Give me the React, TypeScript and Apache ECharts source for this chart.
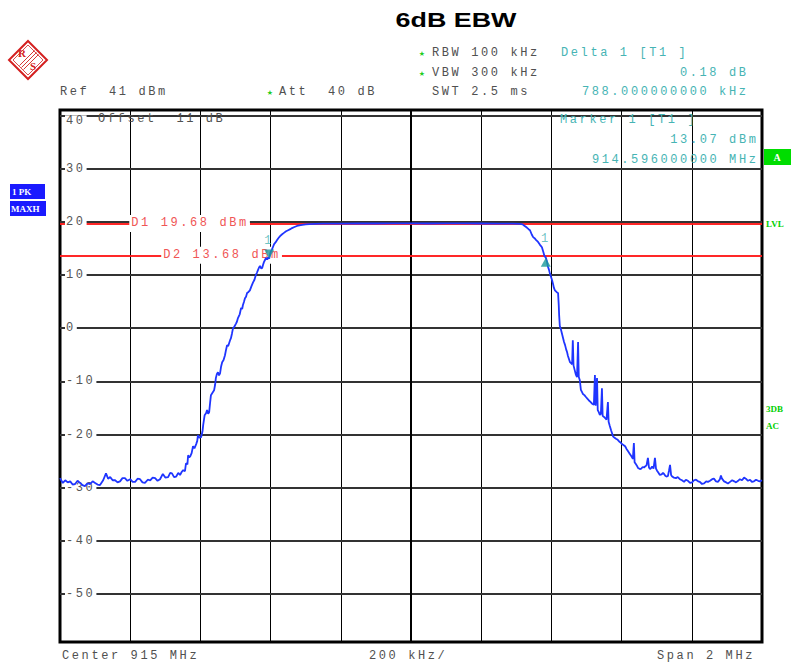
import React, { useEffect, useRef } from 'react';
import * as echarts from 'echarts';

// ---------- data ----------
const X_MIN = -1000; // kHz offset from 915 MHz
const X_MAX = 1000;
const X_STEP = 200;
const Y_MIN = -59;
const Y_MAX = 41;
const Y_TICKS = [40, 30, 20, 10, 0, -10, -20, -30, -40, -50];

const TRACE_KHZ = [
  -1000, -992, -985, -978, -971, -964, -957, -950, -943, -936, -929, -922, -914, -907, -900, -893, -886, -877, -869, -863,
  -857, -850, -843, -836, -829, -822, -815, -808, -800, -793, -786, -779, -772, -765, -758, -750, -743, -736, -729, -722,
  -715, -707, -700, -692, -686, -681, -675, -669, -663, -658, -653, -649, -644, -641, -637, -635, -632, -629, -625, -621,
  -617, -612, -609, -607, -603, -598, -594, -592, -588, -584, -581, -578, -575, -572, -570, -566, -561, -558, -556, -553,
  -550, -547, -544, -541, -538, -534, -530, -527, -524, -521, -518, -515, -513, -510, -507, -503, -499, -496, -493, -488,
  -484, -481, -479, -476, -473, -470, -467, -463, -459, -455, -450, -446, -442, -439, -436, -433, -430, -427, -424, -421,
  -419, -416, -413, -410, -407, -404, -400, -396, -393, -390, -386, -382, -378, -373, -368, -362, -356, -350, -344, -339,
  -332, -325, -318, -310, -300, -290, -274, -250, -200, -150, -100, -50, 0, 50, 100, 150, 200, 250, 290, 310,
  318, 322, 326, 330, 335, 339, 344, 348, 352, 356, 362, 367, 373, 377, 380, 384, 387, 390, 393, 396,
  399, 402, 405, 407, 410, 413, 416, 419, 421, 422, 424, 427, 430, 433, 436, 439, 442, 445, 447, 450,
  453, 456, 459, 461, 463, 466, 470, 473, 476, 478, 481, 484, 487, 490, 494, 499, 503, 507, 512, 516,
  521, 524, 526, 530, 532, 535, 538, 541, 544, 546, 550, 553, 557, 561, 563, 566, 570, 573, 576, 580,
  584, 589, 593, 597, 601, 606, 610, 614, 618, 623, 627, 630, 632, 635, 637, 641, 644, 647, 652, 656,
  660, 664, 667, 671, 675, 678, 681, 684, 687, 691, 695, 698, 701, 705, 709, 714, 718, 721, 725, 729,
  732, 735, 738, 741, 744, 749, 755, 760, 766, 772, 778, 783, 789, 795, 801, 806, 812, 818, 823, 829,
  835, 841, 846, 852, 858, 863, 869, 875, 880, 883, 886, 892, 898, 903, 909, 915, 921, 926, 932, 937,
  943, 949, 954, 960, 966, 971, 977, 983, 989, 994, 1000,
];

const TRACE_DBM = [
  -28.2, -29.1, -28.6, -29.0, -28.8, -29.4, -29.3, -28.7, -29.1, -29.5, -29.7, -29.2, -29.3, -28.8, -29.1, -29.4, -29.5, -28.6, -27.3, -28.3,
  -28.0, -28.6, -28.6, -29.0, -28.8, -28.2, -28.2, -28.7, -28.4, -28.9, -28.9, -28.3, -28.4, -29.0, -29.1, -28.5, -28.6, -28.1, -28.2, -28.7,
  -28.4, -27.4, -28.1, -28.0, -27.2, -27.3, -28.0, -27.9, -27.2, -27.6, -27.0, -26.7, -26.9, -25.4, -25.6, -23.9, -24.3, -24.1, -23.5, -22.2,
  -22.6, -21.8, -21.2, -20.1, -20.6, -20.5, -19.4, -18.2, -16.4, -16.0, -15.4, -16.1, -15.8, -13.8, -12.6, -12.2, -11.7, -10.6, -9.4, -8.6,
  -8.3, -8.9, -8.5, -7.2, -6.4, -6.0, -5.1, -4.1, -3.2, -3.4, -2.8, -2.2, -1.9, -1.0, 0.0, 0.3, 0.8, 1.2, 1.9, 2.6,
  3.8, 3.6, 4.3, 4.9, 5.6, 5.9, 6.6, 6.8, 7.1, 7.8, 8.6, 9.1, 10.0, 10.4, 10.9, 11.4, 11.7, 11.2, 11.3, 12.0,
  12.4, 12.8, 13.2, 12.9, 13.3, 13.07, 14.3, 14.8, 15.3, 15.8, 16.1, 16.5, 16.9, 17.3, 17.6, 17.9, 18.2, 18.4, 18.6, 18.8,
  19.0, 19.2, 19.3, 19.4, 19.5, 19.55, 19.6, 19.65, 19.66, 19.68, 19.67, 19.68, 19.68, 19.67, 19.68, 19.68, 19.67, 19.66, 19.64, 19.6,
  19.5, 19.3, 19.1, 18.9, 18.6, 18.4, 17.6, 17.1, 16.9, 16.6, 16.2, 15.7, 15.2, 14.3, 13.6, 13.25, 12.6, 11.6, 11.0, 10.2,
  9.6, 9.0, 8.2, 7.6, 7.1, 6.9, 6.7, 6.6, 4.2, 2.5, 0.4, -0.2, -1.0, -1.8, -2.6, -3.2, -4.0, -4.6, -5.2, -5.8,
  -6.4, -6.6, -6.8, -2.3, -7.0, -7.8, -8.8, -9.2, -2.6, -9.2, -9.8, -11.6, -12.0, -12.4, -12.6, -13.0, -13.3, -13.6, -13.9, -14.2,
  -14.4, -8.8, -14.6, -9.4, -15.4, -15.8, -16.3, -16.1, -11.3, -16.5, -16.7, -16.9, -17.2, -13.9, -17.6, -18.3, -19.2, -19.8, -20.4, -20.6,
  -20.8, -21.0, -21.3, -21.5, -21.8, -22.0, -22.2, -22.7, -23.1, -23.6, -24.0, -24.3, -24.6, -21.6, -25.2, -25.6, -25.9, -26.3, -26.5, -26.4,
  -26.1, -26.2, -26.0, -25.8, -24.4, -26.2, -26.5, -26.3, -26.0, -26.4, -24.4, -26.4, -26.8, -27.2, -27.6, -27.5, -27.2, -27.4, -27.8, -27.9,
  -27.8, -26.8, -25.7, -27.6, -27.9, -28.1, -28.2, -28.0, -28.4, -28.6, -28.9, -28.5, -28.7, -29.1, -29.0, -28.6, -28.5, -28.8, -28.9, -29.3,
  -29.2, -28.8, -28.9, -28.7, -28.4, -28.3, -28.8, -28.9, -28.4, -27.7, -28.3, -28.8, -29.0, -29.2, -28.9, -28.6, -28.8, -29.0, -28.7, -28.4,
  -28.6, -28.1, -28.3, -28.7, -28.5, -28.9, -28.8, -28.5, -28.7, -28.8, -28.6,
];

const D1_LEVEL = 19.68;
const D2_LEVEL = 13.68;
// display-line label gaps (kHz) where the line is interrupted by its text
const D1_GAP = [-795, -459];
const D2_GAP = [-707, -368];
const MARKER1 = [-404, 13.07];
const DELTA1 = [384, 13.25];

// ---------- styles ----------
const MONO = '"Liberation Mono", "DejaVu Sans Mono", monospace';
const SPACING = 2.6;
const GRAY = '#505050';
const TEAL = '#46b4b4';
const MARK_TEAL = '#1a9a9a';
const RED_TXT = '#f05555';
const RED = '#ff1a1a';
const GREEN = '#00d000';
const BLUE_TRACE = '#1f35ff';

const txt = (text: string, x: number, y: number, fill: string, align = 'left', extra: any = {}) => ({
  type: 'text',
  x,
  y,
  silent: true,
  z: 20,
  style: {
    text,
    fill,
    fontFamily: MONO,
    fontSize: 12,
    align,
    verticalAlign: 'middle',
    textAlign: align,
    textVerticalAlign: 'middle',
    ...extra,
  },
});

export default function App() {
  const ref = useRef<HTMLDivElement>(null);

  useEffect(() => {
    if (!ref.current) return;
    const chart = echarts.init(ref.current, null, { renderer: 'svg' });

    const traceData = TRACE_KHZ.map((k, i) => [k, TRACE_DBM[i]]);

    const yLabel = (v: number) => {
      const s = String(v);
      return {
        yAxis: v,
        label: {
          show: true,
          formatter: s,
          position: v === 40 ? 'insideStartBottom' : 'insideStart',
          distance: [5, 0],
          color: '#555',
          fontFamily: MONO,
          fontSize: 12,
          backgroundColor: '#fff',
          padding: [0, 1 + SPACING * s.length, 0, 1],
        },
      };
    };

    const displayLine = (level: number, gap: number[], name: string | null) => [
      [
        { coord: [X_MIN, level], label: { show: false } },
        { coord: [gap[0], level] },
      ],
      [
        {
          coord: [gap[1], level],
          label: name
            ? {
                show: true,
                formatter: name,
                position: 'start',
                distance: 0,
                color: RED_TXT,
                fontFamily: MONO,
                fontSize: 12,
                backgroundColor: '#fff',
                padding: [0, 1, 5, 2 + SPACING * name.length],
              }
            : { show: false },
        },
        { coord: [X_MAX, level] },
      ],
    ];

    const redMarkLine = (withLabels: boolean) => ({
      silent: true,
      symbol: ['none', 'none'],
      animation: false,
      emphasis: { disabled: true },
      lineStyle: { color: RED, width: 1.5, type: 'solid' },
      data: [
        ...displayLine(D1_LEVEL, D1_GAP, withLabels ? 'D1 19.68 dBm' : null),
        ...displayLine(D2_LEVEL, D2_GAP, withLabels ? 'D2 13.68 dBm' : null),
      ],
    });

    const option: any = {
      animation: false,
      backgroundColor: '#fff',
      grid: {
        left: 60,
        right: 29,
        top: 110,
        bottom: 24,
        containLabel: false,
        outerBoundsMode: 'none',
        show: true,
        borderColor: '#000',
        borderWidth: 3,
        backgroundColor: 'transparent',
      },
      xAxis: {
        type: 'value',
        min: X_MIN,
        max: X_MAX,
        interval: X_STEP,
        axisLine: { show: false },
        axisTick: { show: false },
        axisLabel: { show: false },
        splitLine: { show: true, lineStyle: { color: '#000', width: 1 } },
      },
      yAxis: {
        type: 'value',
        min: Y_MIN,
        max: Y_MAX,
        axisLine: { show: false },
        axisTick: { show: false },
        axisLabel: { show: false },
        splitLine: { show: false },
      },
      series: [
        {
          name: 'grid',
          type: 'line',
          z: 1,
          silent: true,
          symbol: 'none',
          data: [[X_MIN, Y_MIN]],
          lineStyle: { opacity: 0 },
          markLine: {
            silent: true,
            symbol: ['none', 'none'],
            animation: false,
            emphasis: { disabled: true },
            lineStyle: { color: '#333', width: 2, type: 'solid' },
            data: [
              ...Y_TICKS.map(yLabel),
              { xAxis: 0, label: { show: false }, lineStyle: { color: '#000', width: 2, type: 'solid' } },
            ],
          },
        },
        {
          name: 'display line labels',
          type: 'line',
          z: 2,
          silent: true,
          symbol: 'none',
          data: [[X_MIN, Y_MIN]],
          lineStyle: { opacity: 0 },
          markLine: redMarkLine(true),
        },
        {
          name: '1 PK MAXH',
          type: 'line',
          z: 5,
          silent: true,
          symbol: 'none',
          showSymbol: false,
          data: traceData,
          lineStyle: { color: BLUE_TRACE, width: 1.8 },
        },
        {
          name: 'display lines',
          type: 'line',
          z: 6,
          silent: true,
          symbol: 'none',
          data: [[X_MIN, Y_MIN]],
          lineStyle: { opacity: 0 },
          markLine: redMarkLine(false),
        },
        {
          name: 'markers',
          type: 'scatter',
          z: 7,
          silent: true,
          data: [
            {
              value: MARKER1,
              symbol: 'path://M0,0L10,0L5,9Z',
              symbolSize: [10, 9],
              symbolOffset: [0, -4.5],
              label: { show: true, formatter: '1', position: 'top', distance: 3, color: TEAL, fontFamily: MONO, fontSize: 12 },
            },
            {
              value: DELTA1,
              symbol: 'triangle',
              symbolSize: [10, 9],
              symbolOffset: [0, 4.5],
              label: { show: true, formatter: '1', position: 'top', distance: 13, color: TEAL, fontFamily: MONO, fontSize: 12 },
            },
          ],
          itemStyle: { color: MARK_TEAL },
        },
      ],
      graphic: [
        // title
        {
          type: 'text',
          x: 456,
          y: 20,
          scaleX: 1.28,
          silent: true,
          style: {
            text: '6dB EBW',
            fill: '#000',
            fontFamily: '"Liberation Sans", Arial, sans-serif',
            fontWeight: 'bold',
            fontSize: 21,
            align: 'center',
            verticalAlign: 'middle',
            textAlign: 'center',
            textVerticalAlign: 'middle',
          },
        },
        // R&S logo
        {
          type: 'polygon',
          silent: true,
          shape: { points: [[28, 41], [47, 60], [28, 79], [9, 60]] },
          style: { fill: '#fff', stroke: '#d42020', lineWidth: 2 },
        },
        {
          type: 'polygon',
          silent: true,
          shape: { points: [[28, 45], [43, 60], [28, 75], [13, 60]] },
          style: { fill: 'none', stroke: '#d42020', lineWidth: 0.8 },
        },
        { type: 'line', silent: true, shape: { x1: 34.5, y1: 50.5, x2: 19.5, y2: 65.5 }, style: { stroke: '#d42020', lineWidth: 0.9 } },
        { type: 'line', silent: true, shape: { x1: 36.5, y1: 52.5, x2: 21.5, y2: 67.5 }, style: { stroke: '#d42020', lineWidth: 0.9 } },
        { type: 'line', silent: true, shape: { x1: 38.5, y1: 54.5, x2: 23.5, y2: 69.5 }, style: { stroke: '#d42020', lineWidth: 0.9 } },
        txt('R', 22, 53, '#d42020', 'center', { fontFamily: '"Liberation Serif", serif', fontWeight: 'bold', fontSize: 11 }),
        txt('S', 33, 66, '#d42020', 'center', { fontFamily: '"Liberation Serif", serif', fontWeight: 'bold', fontSize: 11 }),
        // header settings
        txt('Ref  41 dBm', 60, 92, GRAY),
        txt('★', 270, 93, '#22cc22', 'center', { fontFamily: '"DejaVu Sans", sans-serif', fontSize: 7 }),
        txt('Att  40 dB', 279, 92, GRAY),
        txt('★', 422, 54, '#22cc22', 'center', { fontFamily: '"DejaVu Sans", sans-serif', fontSize: 7 }),
        txt('RBW 100 kHz', 432, 53, GRAY),
        txt('★', 422, 74, '#22cc22', 'center', { fontFamily: '"DejaVu Sans", sans-serif', fontSize: 7 }),
        txt('VBW 300 kHz', 432, 73, GRAY),
        txt('SWT 2.5 ms', 432, 92, GRAY),
        txt('Delta 1 [T1 ]', 561, 53, TEAL),
        txt('0.18 dB', 748.5, 73, TEAL, 'right'),
        txt('788.000000000 kHz', 748.5, 92, TEAL, 'right'),
        // marker info in plot
        txt('Offset  11 dB', 98, 119, GRAY),
        txt('Marker 1 [T1 ]', 560, 120, TEAL),
        txt('13.07 dBm', 758.5, 140, TEAL, 'right'),
        txt('914.596000000 MHz', 758.5, 160, TEAL, 'right'),
        // footer
        txt('Center 915 MHz', 62, 656, GRAY),
        txt('200 kHz/', 369, 656, GRAY),
        txt('Span 2 MHz', 755, 656, GRAY, 'right'),
        // left trace boxes
        { type: 'rect', silent: true, z: 20, shape: { x: 10, y: 184, width: 35, height: 15 }, style: { fill: '#1a1aff' } },
        { type: 'rect', silent: true, z: 20, shape: { x: 10, y: 201, width: 36, height: 15 }, style: { fill: '#1a1aff' } },
        txt('1 PK', 12, 192, '#fff', 'left', { fontFamily: '"Liberation Serif", serif', fontWeight: 'bold', fontSize: 9 }),
        txt('MAXH', 11, 209, '#fff', 'left', { fontFamily: '"Liberation Serif", serif', fontWeight: 'bold', fontSize: 9 }),
        // right side indicators
        { type: 'rect', silent: true, z: 20, shape: { x: 764, y: 149, width: 27, height: 16 }, style: { fill: '#00dd00' } },
        txt('A', 777, 157.5, '#fff', 'center', { fontFamily: '"Liberation Serif", serif', fontWeight: 'bold', fontSize: 10 }),
        txt('LVL', 766, 224, GREEN, 'left', { fontFamily: '"Liberation Serif", serif', fontWeight: 'bold', fontSize: 9 }),
        txt('3DB', 766, 409, GREEN, 'left', { fontFamily: '"Liberation Serif", serif', fontWeight: 'bold', fontSize: 9 }),
        txt('AC', 766, 426, GREEN, 'left', { fontFamily: '"Liberation Serif", serif', fontWeight: 'bold', fontSize: 9 }),
      ],
    };

    chart.setOption(option);

    const applySpacing = () => {
      const root = ref.current;
      if (!root) return;
      root.querySelectorAll('text').forEach((t) => {
        const ff = getComputedStyle(t).fontFamily || '';
        if (ff.indexOf('Liberation Mono') >= 0) {
          t.setAttribute('letter-spacing', String(SPACING));
          (t as any).style.whiteSpace = 'pre';
        }
      });
    };
    applySpacing();
    chart.on('finished', applySpacing);
    const timer = setTimeout(applySpacing, 50);

    return () => {
      clearTimeout(timer);
      chart.dispose();
    };
  }, []);

  return (
    <div
      ref={ref}
      style={{ position: 'fixed', left: 0, top: 0, width: 791, height: 666, background: '#fff' }}
    />
  );
}
